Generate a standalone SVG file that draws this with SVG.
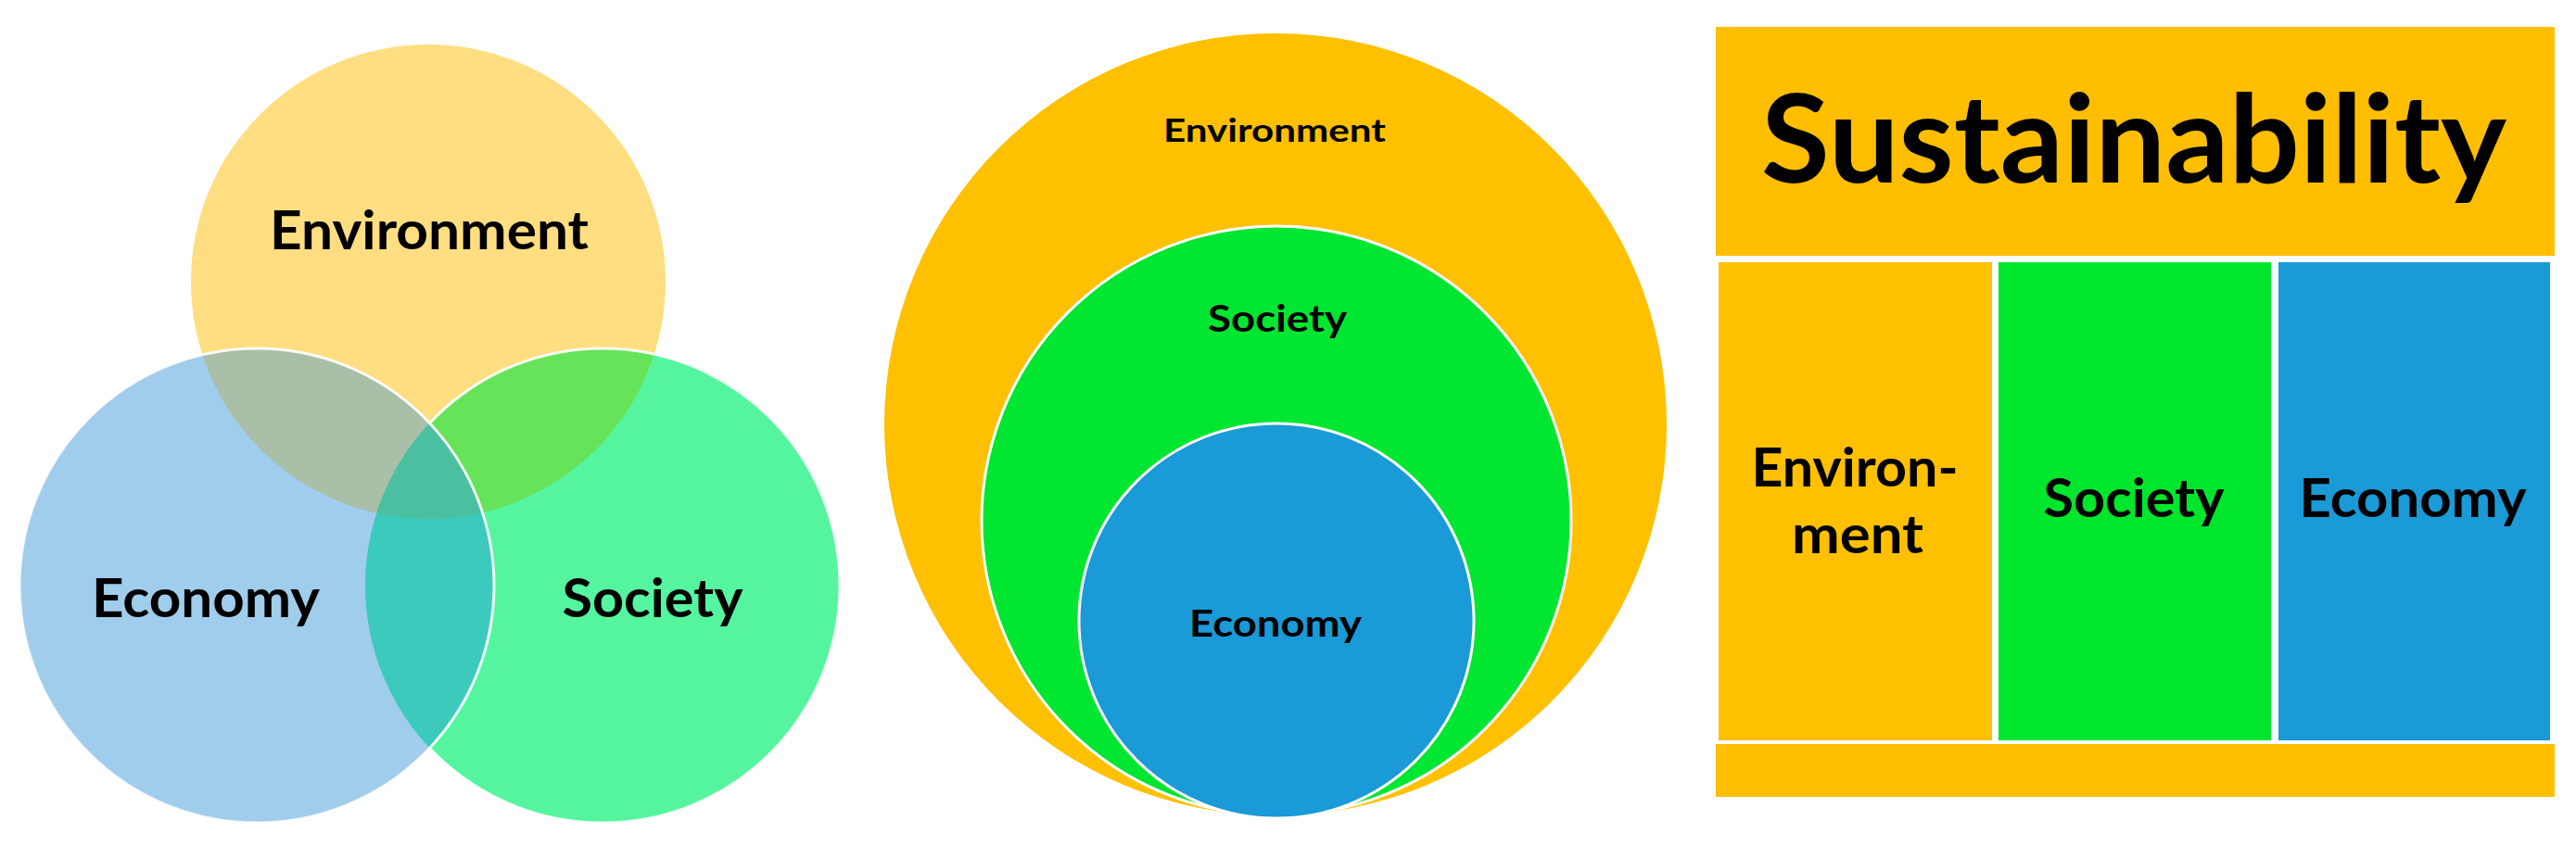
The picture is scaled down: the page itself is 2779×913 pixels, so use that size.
<svg xmlns="http://www.w3.org/2000/svg" width="2779" height="913" viewBox="0 0 2779 913">
<style>
  text { font-family: Lato, "Liberation Sans", sans-serif; font-weight: 700; fill: #000; text-anchor: middle; }
  .wstroke { fill: none; stroke: #ffffff; stroke-width: 3; stroke-opacity: 0.9; }
</style>
<defs>
  <clipPath id="clipSoc"><circle cx="650" cy="632" r="256"/></clipPath>
  <clipPath id="clipEcon"><circle cx="277" cy="632" r="256"/></clipPath>
  <mask id="notEcon" maskUnits="userSpaceOnUse" x="0" y="0" width="2779" height="913">
    <rect x="0" y="0" width="2779" height="913" fill="#fff"/>
    <circle cx="277" cy="632" r="256" fill="#000"/>
  </mask>
</defs>
<rect x="0" y="0" width="2779" height="913" fill="#ffffff"/>

<!-- Venn diagram -->
<g id="venn">
  <g id="venn-environment">
    <circle cx="462" cy="304" r="256" fill="#FFDE81"/>
  </g>
  <g id="venn-society">
    <circle cx="650" cy="632" r="256" fill="#55F5A0"/>
  </g>
  <g id="venn-economy">
    <circle cx="277" cy="632" r="256" fill="#A1CDEC"/>
  </g>
  <g id="venn-overlaps">
    <circle cx="462" cy="304" r="256" fill="#67E35A" clip-path="url(#clipSoc)"/>
    <circle cx="462" cy="304" r="256" fill="#A9BFA8" clip-path="url(#clipEcon)"/>
    <circle cx="277" cy="632" r="256" fill="#3CCABD" clip-path="url(#clipSoc)"/>
    <g clip-path="url(#clipEcon)">
      <circle cx="462" cy="304" r="256" fill="#4BC0A0" clip-path="url(#clipSoc)"/>
    </g>
  </g>
  <g id="venn-outlines">
    <circle cx="650" cy="632" r="256" class="wstroke" mask="url(#notEcon)"/>
    <circle cx="277" cy="632" r="256" class="wstroke"/>
  </g>
  <text x="463" y="269" font-size="57" textLength="344" lengthAdjust="spacingAndGlyphs">Environment</text>
  <text x="222" y="666" font-size="57" textLength="246" lengthAdjust="spacingAndGlyphs">Economy</text>
  <text x="704" y="666" font-size="57" textLength="195" lengthAdjust="spacingAndGlyphs">Society</text>
</g>

<!-- Nested circles -->
<g id="nested">
  <g id="nested-environment">
    <circle cx="1376" cy="458" r="422" fill="#FFC000"/>
    <text x="1375" y="153" font-size="35" textLength="240" lengthAdjust="spacingAndGlyphs">Environment</text>
  </g>
  <g id="nested-society">
    <circle cx="1377" cy="562" r="318" fill="#00E631" stroke="#ffffff" stroke-width="3"/>
    <text x="1378" y="358" font-size="41" textLength="150" lengthAdjust="spacingAndGlyphs">Society</text>
  </g>
  <g id="nested-economy">
    <circle cx="1377" cy="670" r="213" fill="#1A9AD6" stroke="#ffffff" stroke-width="3"/>
    <text x="1376" y="687" font-size="41" textLength="186" lengthAdjust="spacingAndGlyphs">Economy</text>
  </g>
</g>

<!-- Pillars -->
<g id="pillars">
  <g id="pillar-sustainability">
    <rect x="1851" y="29" width="905" height="247" fill="#FFBE00"/>
    <text x="2302" y="197" font-size="133" textLength="804" lengthAdjust="spacingAndGlyphs">Sustainability</text>
  </g>
  <g id="pillar-environment">
    <rect x="1854" y="283" width="295" height="516" fill="#FFC000"/>
    <text x="2001" y="525" font-size="58" textLength="223" lengthAdjust="spacingAndGlyphs">Environ-</text>
    <text x="2004" y="597" font-size="58" textLength="142" lengthAdjust="spacingAndGlyphs">ment</text>
  </g>
  <g id="pillar-society">
    <rect x="2156" y="283" width="294" height="516" fill="#00E62D"/>
    <text x="2302" y="558" font-size="58" textLength="195" lengthAdjust="spacingAndGlyphs">Society</text>
  </g>
  <g id="pillar-economy">
    <rect x="2458" y="283" width="293" height="516" fill="#1A9AD7"/>
    <text x="2603" y="558" font-size="58" textLength="245" lengthAdjust="spacingAndGlyphs">Economy</text>
  </g>
  <g id="pillar-base">
    <rect x="1851" y="803" width="905" height="57" fill="#FFBE00"/>
  </g>
</g>
</svg>
